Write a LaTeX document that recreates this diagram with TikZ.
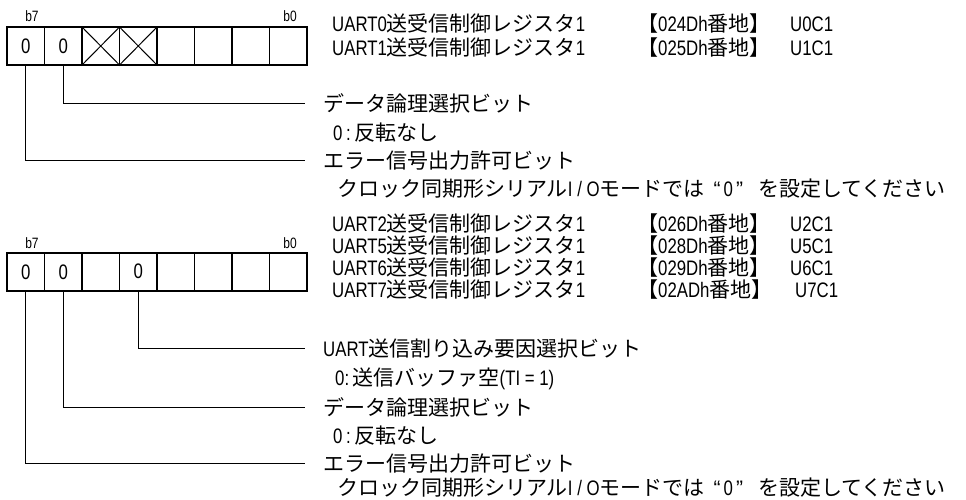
\documentclass[tikz,border=0pt]{standalone}
\usepackage{fontspec}
\setmainfont{Liberation Sans}[FakeStretch=0.8]
\newfontfamily\cjk{Noto Sans CJK JP}
\newfontfamily\quotefont{Liberation Sans}
\newcommand\J[1]{{\cjk #1}}
\newcommand\QZ{\hspace{9pt}{\quotefont “}\hspace{3pt}0\hspace{3pt}{\quotefont ”}\hspace{15pt}}
\tikzset{
  reg/.style={draw, line width=1.3pt, minimum width=37.5pt, minimum height=38pt, inner sep=0pt, font=\fontsize{21}{21}\selectfont},
  lbl/.style={anchor=west, inner sep=0pt, font=\fontsize{21}{24}\selectfont, text height=16pt, text depth=0pt},
  bitlbl/.style={inner sep=0pt, font=\fontsize{15}{15}\selectfont},
  conn/.style={line width=0.8pt},
  xcross/.style={line width=1pt}
}
\begin{document}
\begin{tikzpicture}[x=1pt,y=-1pt]
\useasboundingbox (0,0) rectangle (966,499);
% ---------- register 1 ----------
\node[bitlbl] (b7a) at (32,16) {b7};
\node[bitlbl] (b0a) at (290,16) {b0};
\node[reg] (a7) at (25.75,46) {0};
\node[reg] (a6) at (63.25,46) {0};
\node[reg] (a5) at (100.75,46) {};
\node[reg] (a4) at (138.25,46) {};
\node[reg] (a3) at (175.75,46) {};
\node[reg] (a2) at (213.25,46) {};
\node[reg] (a1) at (250.75,46) {};
\node[reg] (a0) at (288.25,46) {};
\draw[xcross] (a5.north west) -- (a5.south east) (a5.south west) -- (a5.north east);
\draw[xcross] (a4.north west) -- (a4.south east) (a4.south west) -- (a4.north east);
\node[lbl] (h1) at (332,23) {UART0\J{送受信制御レジスタ}1};
\node[lbl] (h1a) at (637,23) {\J{【}024Dh\J{番地】}};
\node[lbl] (h1b) at (790,23) {U0C1};
\node[lbl] (h2) at (332,47) {UART1\J{送受信制御レジスタ}1};
\node[lbl] (h2a) at (637,47) {\J{【}025Dh\J{番地】}};
\node[lbl] (h2b) at (790,47) {U1C1};
\coordinate (e16) at (305,103);
\coordinate (e17) at (305,160);
\draw[conn] (a6.south) |- (e16);
\draw[conn] (a7.south) |- (e17);
\node[lbl] (t16) at (323,103) {\J{データ論理選択ビット}};
\node[lbl] (t16b) at (333,132) {0\,:\,\J{反転なし}};
\node[lbl] (t17) at (323,160) {\J{エラー信号出力許可ビット}};
\node[lbl] (t17b) at (337,188) {\J{クロック同期形シリアル}I / O\J{モードでは}\QZ\J{を設定してください}};
% ---------- register 2 ----------
\node[bitlbl] (b7b) at (32,243) {b7};
\node[bitlbl] (b0b) at (290,243) {b0};
\node[reg] (c7) at (25.75,272) {0};
\node[reg] (c6) at (63.25,272) {0};
\node[reg] (c5) at (100.75,272) {};
\node[reg] (c4) at (138.25,272) {\raisebox{2pt}{0}};
\node[reg] (c3) at (175.75,272) {};
\node[reg] (c2) at (213.25,272) {};
\node[reg] (c1) at (250.75,272) {};
\node[reg] (c0) at (288.25,272) {};
\node[lbl] (g1) at (332,223) {UART2\J{送受信制御レジスタ}1};
\node[lbl] (g1a) at (637,223) {\J{【}026Dh\J{番地】}};
\node[lbl] (g1b) at (790,223) {U2C1};
\node[lbl] (g2) at (332,245) {UART5\J{送受信制御レジスタ}1};
\node[lbl] (g2a) at (637,245) {\J{【}028Dh\J{番地】}};
\node[lbl] (g2b) at (790,245) {U5C1};
\node[lbl] (g3) at (332,267) {UART6\J{送受信制御レジスタ}1};
\node[lbl] (g3a) at (637,267) {\J{【}029Dh\J{番地】}};
\node[lbl] (g3b) at (790,267) {U6C1};
\node[lbl] (g4) at (332,289) {UART7\J{送受信制御レジスタ}1};
\node[lbl] (g4a) at (637,289) {\J{【}02ADh\J{番地】}};
\node[lbl] (g4b) at (795,289) {U7C1};
\coordinate (e24) at (305,348);
\coordinate (e26) at (305,407);
\coordinate (e27) at (305,463);
\draw[conn] (c4.south) |- (e24);
\draw[conn] (c6.south) |- (e26);
\draw[conn] (c7.south) |- (e27);
\node[lbl] (s24) at (323,348) {UART\J{送信割り込み要因選択ビット}};
\node[lbl] (s24b) at (335,377) {0:\,\J{送信バッファ空}(TI = 1)};
\node[lbl] (s26) at (323,407) {\J{データ論理選択ビット}};
\node[lbl] (s26b) at (333,435) {0\,:\,\J{反転なし}};
\node[lbl] (s27) at (323,463) {\J{エラー信号出力許可ビット}};
\node[lbl] (s27b) at (337,487) {\J{クロック同期形シリアル}I / O\J{モードでは}\QZ\J{を設定してください}};
\end{tikzpicture}
\end{document}
